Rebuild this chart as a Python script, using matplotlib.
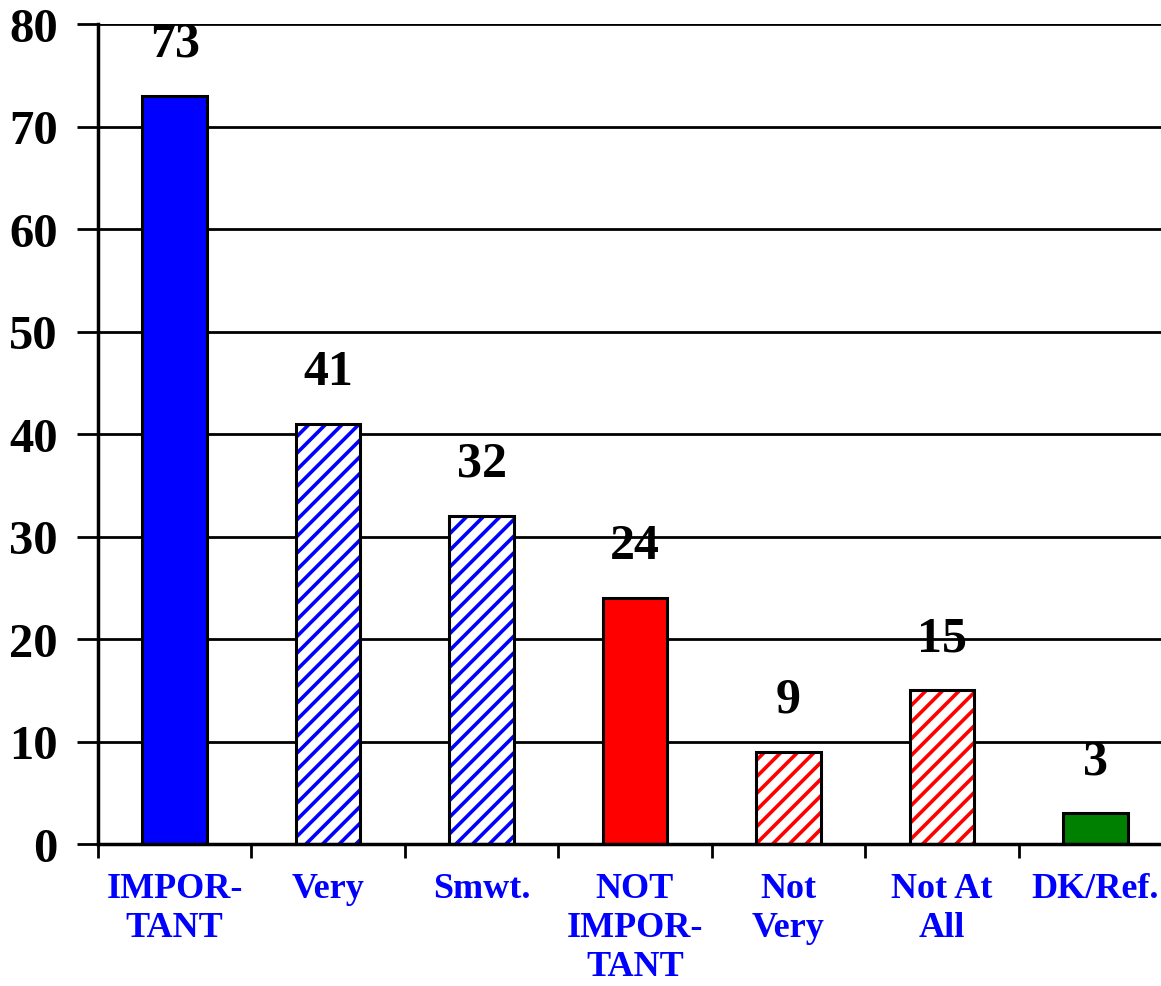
import matplotlib
matplotlib.use("Agg")
import matplotlib.pyplot as plt
import numpy as np

categories = ["IMPOR-\nTANT", "Very", "Smwt.", "NOT\nIMPOR-\nTANT", "Not\nVery", "Not At\nAll", "DK/Ref."]
values = [73, 41, 32, 24, 9, 15, 3]
colors = ["#0000FF", "#0000FF", "#0000FF", "#FF0000", "#FF0000", "#FF0000", "#008000"]
hatched = [False, True, True, False, True, True, False]

plt.rcParams["font.family"] = ["Liberation Serif", "DejaVu Serif"]
plt.rcParams["font.weight"] = "bold"
plt.rcParams["hatch.linewidth"] = 2.6

fig = plt.figure(figsize=(11.61, 9.87), dpi=100)
ax = fig.add_axes([98 / 1161, 1 - 845 / 987, 1 - 98 / 1161, (845 - 25) / 987])

x = np.arange(len(values))
width = 0.42

# grid lines behind bars
for v in range(10, 81, 10):
    ax.axhline(v, color="black", lw=2, zorder=0)

for xi, v, c, h in zip(x, values, colors, hatched):
    if h:
        ax.bar(xi, v, width, color="white", edgecolor=c, hatch="//", linewidth=0, zorder=2)
        ax.bar(xi, v, width, facecolor="none", edgecolor="black", linewidth=2.2, zorder=3)
    else:
        ax.bar(xi, v, width, color=c, edgecolor="black", linewidth=2.2, zorder=3)
    ax.annotate(str(v), (xi, v), xytext=(0, 21), textcoords="offset points",
                ha="center", va="bottom", fontsize=36, fontweight="bold")

ax.set_ylim(0, 80)
ax.set_xlim(-0.5, 6.5 - 11 / 153.5)
ax.set_yticks(range(0, 81, 10))
ax.tick_params(axis="y", length=15, width=2, pad=14, labelsize=35, direction="out")
for lab in ax.get_yticklabels():
    lab.set_fontweight("bold")

ax.set_xticks(x)
ax.set_xticklabels(categories, color="#0000FF", fontsize=26, fontweight="bold", linespacing=1.25, va="top")
ax.tick_params(axis="x", which="major", length=0, pad=20)
ax.set_xticks(np.arange(-0.5, 6, 1), minor=True)
ax.tick_params(axis="x", which="minor", length=10, width=2, direction="out")

for s in ["top", "right"]:
    ax.spines[s].set_visible(False)
ax.spines["left"].set_linewidth(2.5)
ax.spines["bottom"].set_linewidth(2.5)
ax.spines["left"].set_zorder(4)
ax.spines["bottom"].set_zorder(4)

fig.savefig("out.png", dpi=100)
